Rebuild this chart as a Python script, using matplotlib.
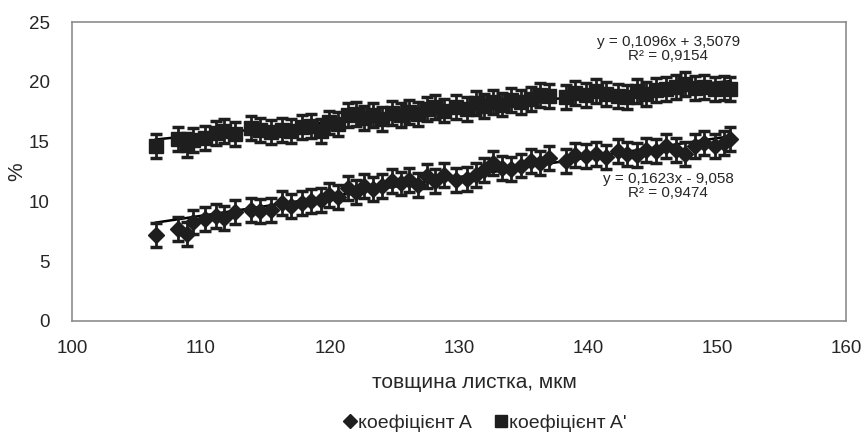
import numpy as np
import matplotlib
matplotlib.use("Agg")
import matplotlib.pyplot as plt
from matplotlib.lines import Line2D

plt.rcParams['font.family'] = ['Liberation Sans', 'DejaVu Sans']

# leaf thickness, um (shared by both series)
thickness = [106.5, 108.2, 108.9, 109.4, 110.3, 111.2, 111.8, 112.6, 113.9, 114.6,
             115.4, 116.3, 117.0, 117.8, 118.5, 119.3, 119.9, 120.6, 121.4, 122.0,
             122.6, 123.3, 124.0, 124.8, 125.5, 126.1, 126.8, 127.5, 128.1, 128.8,
             129.8, 130.6, 131.3, 131.9, 132.6, 133.3, 134.0, 134.8, 135.6, 136.3,
             137.0, 138.3, 139.0, 139.8, 140.6, 141.4, 142.3, 143.0, 143.8, 144.5,
             145.3, 146.0, 146.8, 147.5, 148.3, 149.0, 149.8, 150.5, 151.0]

coef_a = [7.2, 7.7, 7.3, 8.3, 8.5, 8.8, 8.6, 9.1, 9.3, 9.2,
          9.3, 9.9, 9.6, 9.9, 10.0, 10.1, 10.5, 10.4, 11.1, 10.8,
          11.3, 11.0, 11.3, 11.7, 11.5, 11.8, 11.4, 12.1, 11.7, 12.2,
          11.8, 11.9, 12.2, 12.6, 13.2, 12.8, 12.7, 13.0, 13.4, 13.2,
          13.6, 13.4, 13.9, 13.8, 14.0, 13.7, 14.2, 14.0, 13.9, 14.3,
          14.2, 14.6, 14.3, 14.0, 14.6, 14.9, 14.6, 14.9, 15.2]

coef_a2 = [14.6, 15.2, 14.7, 15.1, 15.3, 15.7, 15.9, 15.6, 16.1, 16.0,
           15.8, 16.0, 15.9, 16.2, 16.3, 15.9, 16.6, 16.5, 17.2, 17.3,
           17.0, 17.2, 16.9, 17.4, 17.2, 17.5, 17.3, 17.7, 17.9, 17.6,
           17.9, 17.7, 18.2, 18.0, 18.3, 18.1, 18.5, 18.3, 18.6, 18.9,
           18.8, 18.7, 19.1, 18.9, 19.2, 19.0, 18.8, 18.7, 19.2, 19.0,
           19.3, 19.4, 19.6, 19.8, 19.5, 19.6, 19.4, 19.5, 19.4]

err = 1.0

# trendline coefficients as printed on the chart
trend_a = (0.1623, -9.058)
trend_a2 = (0.1096, 3.5079)

ink = '#1e1e1e'
txt = '#262626'

fig = plt.figure(figsize=(8.65, 4.32), dpi=100)
ax = fig.add_axes([0.0832, 0.257, 0.895, 0.692])

x = np.array(thickness)
xl = np.array([x.min(), x.max()])
ax.plot(xl, trend_a[0] * xl + trend_a[1], color='black', lw=1.8, zorder=2)
ax.plot(xl, trend_a2[0] * xl + trend_a2[1], color='black', lw=1.8, zorder=2)

ax.errorbar(x, coef_a, yerr=err, fmt='D', ms=8, color=ink, ecolor=ink,
            elinewidth=2, capsize=4.5, capthick=2.5, zorder=3)
ax.errorbar(x, coef_a2, yerr=err, fmt='s', ms=10, color=ink, ecolor=ink,
            elinewidth=2, capsize=4.5, capthick=2.5, zorder=3)

ax.text(146.2, 22.75, 'y = 0,1096x + 3,5079\nR² = 0,9154', ha='center', va='center',
        fontsize=11, color=txt, linespacing=1.0)
ax.text(146.2, 11.25, 'y = 0,1623x - 9,058\nR² = 0,9474', ha='center', va='center',
        fontsize=11, color=txt, linespacing=1.0)

ax.set_xlim(100, 160)
ax.set_ylim(0, 25)
ax.set_xticks(range(100, 161, 10))
ax.set_yticks(range(0, 26, 5))
ax.tick_params(length=0, labelsize=13.5, labelcolor=txt)
ax.tick_params(axis='x', pad=14)
ax.tick_params(axis='y', pad=16)
for s in ax.spines.values():
    s.set_color('#8c8c8c')
    s.set_linewidth(1.2)

ax.set_xlabel('товщина листка, мкм', fontsize=15, color=txt)
ax.xaxis.label.set_va('center')
ax.xaxis.set_label_coords(0.52, -0.205)
ax.set_ylabel('%', fontsize=15, color=txt)
ax.yaxis.label.set_va('center')
ax.yaxis.set_label_coords(-0.071, 0.5)

handles = [Line2D([], [], marker='D', ls='none', color=ink, ms=7),
           Line2D([], [], marker='s', ls='none', color=ink, ms=8)]
fig.legend(handles, ['коефіцієнт A', "коефіцієнт A'"], loc='center',
           bbox_to_anchor=(0.561, 0.02), ncol=2, frameon=False, fontsize=14,
           handlelength=0.6, handletextpad=0.1, columnspacing=1.2,
           labelcolor=txt)

fig.savefig('out.png', dpi=100)
